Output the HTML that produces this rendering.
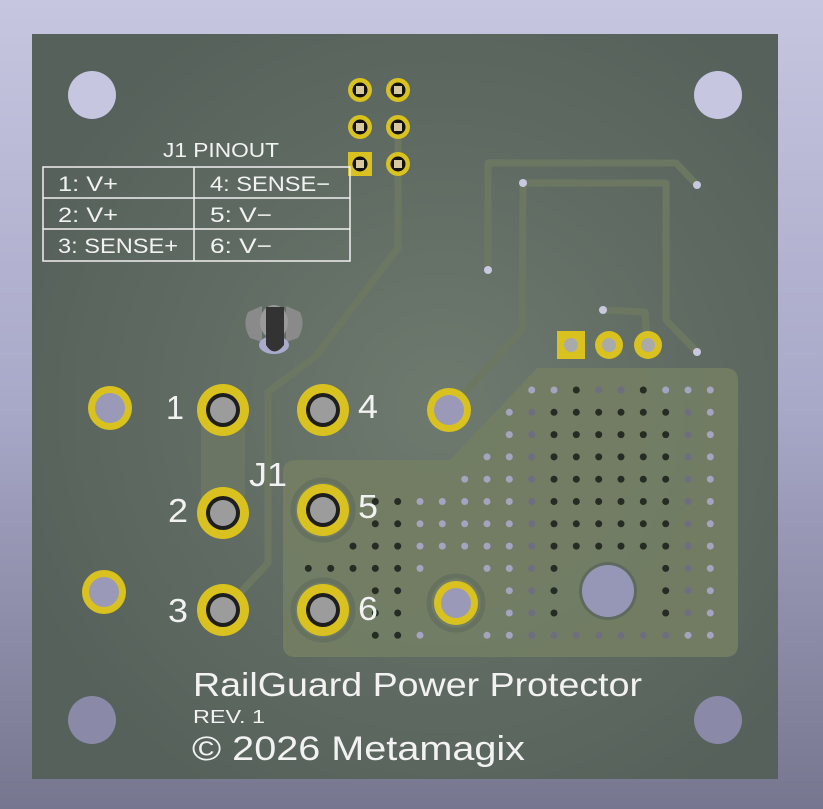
<!DOCTYPE html>
<html><head><meta charset="utf-8"><style>
html,body{margin:0;padding:0;width:823px;height:809px;overflow:hidden}
svg{display:block}
.L{fill:#a4a4c0}.D{fill:#262b24}.H{fill:#6e6e80}
text{font-family:"Liberation Sans",sans-serif;fill:#f2f2f2}
</style></head><body>
<svg width="823" height="809" viewBox="0 0 823 809" xmlns="http://www.w3.org/2000/svg">
<defs>
<linearGradient id="bg" x1="0" y1="0" x2="0" y2="1"><stop offset="0" stop-color="#c6c6e0"/><stop offset="0.5" stop-color="#a8a8c8"/><stop offset="1" stop-color="#76768f"/></linearGradient>
<radialGradient id="bd" cx="0.55" cy="0.5" r="0.6"><stop offset="0" stop-color="#6e7a6e"/><stop offset="1" stop-color="#55615a"/></radialGradient>
<g id="pth"><circle r="26" fill="#d9c21f"/><circle r="17" fill="#1e1e1e"/><circle r="13" fill="#9c9c9c"/></g>
<g id="mh"><circle r="22" fill="#d9c21f"/><circle r="15" fill="#9a9ab8"/></g>
<g id="hp"><circle r="12" fill="#d9c21f"/><circle r="7.5" fill="#111"/><rect x="-4" y="-4" width="8" height="8" fill="#d8c8a0"/></g>
</defs>
<rect width="823" height="809" fill="url(#bg)"/>
<rect x="32" y="34" width="746" height="745" fill="url(#bd)"/>
<g fill="#c6c6e0"><ellipse cx="92" cy="95" rx="24" ry="24"/><ellipse cx="718" cy="95" rx="24" ry="24"/></g>
<g fill="#8a8aa8"><ellipse cx="92" cy="720" rx="24" ry="24"/><ellipse cx="718" cy="720" rx="24" ry="24"/></g>
<path d="M537 368 L725 368 Q738 368 738 381 L738 645 Q738 657 725 657 L296 657 Q283 657 283 645 L283 472 Q283 460 296 460 L450 460 Z" fill="#737e64" opacity="0.9"/>
<g fill="none" stroke="#6c7762" stroke-width="7" stroke-linejoin="round" stroke-linecap="round">
<path d="M398 127 L398 248 L315 357 L268 392 L268 563 L238 595"/>
<path d="M488 270 L488 163 L676 163 L697 185"/>
<path d="M523 183 L666 183 L666 320 L697 352"/>
<path d="M523 183 L522 330 L449 410"/>
<path d="M603 310 L645 312 L647 345"/>
</g>
<rect x="201" y="410" width="44" height="103" fill="#6a7563"/>
<g fill="#c8c8de"><circle cx="488" cy="270" r="4"/><circle cx="697" cy="185" r="4"/><circle cx="523" cy="183" r="4"/><circle cx="697" cy="352" r="4"/><circle cx="603" cy="310" r="4"/></g>
<rect x="557" y="331" width="28" height="28" fill="#d9c21f"/>
<circle cx="609" cy="345" r="14" fill="#d9c21f"/><circle cx="648" cy="345" r="14" fill="#d9c21f"/>
<g fill="#aaa"><circle cx="571" cy="345" r="7"/><circle cx="609" cy="345" r="7"/><circle cx="648" cy="345" r="7"/></g>
<rect x="348" y="152" width="24" height="24" fill="#d9c21f"/>
<use href="#hp" x="360" y="90"/><use href="#hp" x="398" y="90"/>
<use href="#hp" x="360" y="127"/><use href="#hp" x="398" y="127"/>
<use href="#hp" x="360" y="164"/><use href="#hp" x="398" y="164"/>
<!-- component -->
<path d="M262 306 L248 312 Q242 325 250 338 L262 342 Z" fill="#8a8a8a"/>
<path d="M286 306 L300 312 Q306 325 298 338 L286 342 Z" fill="#8a8a8a"/>
<ellipse cx="274" cy="345" rx="15" ry="9" fill="#aaaacc"/>
<ellipse cx="274" cy="322" rx="14" ry="17" fill="#9a9a9a"/>
<path d="M266 307 L284 307 L284 345 Q274 358 266 345 Z" fill="#333"/>
<g>
<circle class="L" cx="531.7" cy="390" r="3.5"/><circle class="L" cx="554" cy="390" r="3.5"/><circle class="D" cx="576.3" cy="390" r="3.5"/><circle class="H" cx="598.7" cy="390" r="3.5"/><circle class="H" cx="621" cy="390" r="3.5"/><circle class="D" cx="643.3" cy="390" r="3.5"/><circle class="L" cx="665.7" cy="390" r="3.5"/><circle class="L" cx="688" cy="390" r="3.5"/><circle class="L" cx="710.3" cy="390" r="3.5"/>
</g>
<g id="r1">
<circle class="L" cx="509.3" cy="412.3" r="3.5"/><circle class="H" cx="531.7" cy="412.3" r="3.5"/><circle class="D" cx="554" cy="412.3" r="3.5"/><circle class="D" cx="576.3" cy="412.3" r="3.5"/><circle class="D" cx="598.7" cy="412.3" r="3.5"/><circle class="D" cx="621" cy="412.3" r="3.5"/><circle class="D" cx="643.3" cy="412.3" r="3.5"/><circle class="D" cx="665.7" cy="412.3" r="3.5"/><circle class="H" cx="688" cy="412.3" r="3.5"/><circle class="L" cx="710.3" cy="412.3" r="3.5"/>
</g>
<use href="#r1" y="22.3"/>
<use href="#r1" y="44.6"/><circle class="L" cx="487" cy="456.9" r="3.5"/>
<use href="#r1" y="66.9"/><circle class="L" cx="487" cy="479.2" r="3.5"/><circle class="L" cx="464.7" cy="479.2" r="3.5"/>
<g id="r5">
<use href="#r1" y="89.2"/>
<circle class="D" cx="375.3" cy="501.5" r="3.5"/><circle class="D" cx="397.7" cy="501.5" r="3.5"/><circle class="L" cx="420" cy="501.5" r="3.5"/><circle class="L" cx="442.3" cy="501.5" r="3.5"/><circle class="L" cx="464.7" cy="501.5" r="3.5"/><circle class="L" cx="487" cy="501.5" r="3.5"/>
</g>
<use href="#r5" y="22.3"/>
<use href="#r5" y="44.6"/><circle class="D" cx="353" cy="546.1" r="3.5"/>
<g id="r8">
<circle class="L" cx="509.3" cy="568.4" r="3.5"/><circle class="H" cx="531.7" cy="568.4" r="3.5"/><circle class="D" cx="554" cy="568.4" r="3.5"/><circle class="D" cx="665.7" cy="568.4" r="3.5"/><circle class="H" cx="688" cy="568.4" r="3.5"/><circle class="L" cx="710.3" cy="568.4" r="3.5"/>
<circle class="D" cx="375.3" cy="568.4" r="3.5"/><circle class="D" cx="397.7" cy="568.4" r="3.5"/>
</g>
<circle class="D" cx="308.3" cy="568.4" r="3.5"/><circle class="D" cx="330.7" cy="568.4" r="3.5"/><circle class="D" cx="353" cy="568.4" r="3.5"/><circle class="L" cx="420" cy="568.4" r="3.5"/><circle class="L" cx="487" cy="568.4" r="3.5"/>
<use href="#r8" y="22.3"/><use href="#r8" y="44.6"/>
<g>
<circle class="D" cx="375.3" cy="635.3" r="3.5"/><circle class="D" cx="397.7" cy="635.3" r="3.5"/><circle class="L" cx="420" cy="635.3" r="3.5"/><circle class="L" cx="487" cy="635.3" r="3.5"/><circle class="L" cx="509.3" cy="635.3" r="3.5"/><circle class="H" cx="531.7" cy="635.3" r="3.5"/><circle class="H" cx="554" cy="635.3" r="3.5"/><circle class="H" cx="576.3" cy="635.3" r="3.5"/><circle class="H" cx="598.7" cy="635.3" r="3.5"/><circle class="H" cx="621" cy="635.3" r="3.5"/><circle class="H" cx="643.3" cy="635.3" r="3.5"/><circle class="H" cx="665.7" cy="635.3" r="3.5"/><circle class="L" cx="688" cy="635.3" r="3.5"/><circle class="L" cx="710.3" cy="635.3" r="3.5"/>
</g>
<circle cx="608" cy="591" r="29" fill="#5f6a5e"/><circle cx="608" cy="591" r="26" fill="#9696b6"/>
<g fill="none" stroke="#66725f" stroke-width="5"><circle cx="323" cy="510" r="30"/><circle cx="323" cy="610" r="30"/><circle cx="456" cy="603" r="27"/></g>
<use href="#pth" x="223" y="410"/><use href="#pth" x="223" y="513"/><use href="#pth" x="223" y="610"/>
<use href="#pth" x="323" y="410"/><use href="#pth" x="323" y="510"/><use href="#pth" x="323" y="610"/>
<use href="#mh" x="110" y="408"/><use href="#mh" x="104" y="592"/><use href="#mh" x="449" y="410"/><use href="#mh" x="456" y="603"/>
<g font-size="33">
<text x="166" y="419" textLength="18" lengthAdjust="spacingAndGlyphs">1</text><text x="168" y="522" textLength="20" lengthAdjust="spacingAndGlyphs">2</text><text x="168" y="622" textLength="20" lengthAdjust="spacingAndGlyphs">3</text>
<text x="358" y="418" textLength="20" lengthAdjust="spacingAndGlyphs">4</text><text x="358" y="518" textLength="20" lengthAdjust="spacingAndGlyphs">5</text><text x="358" y="620" textLength="20" lengthAdjust="spacingAndGlyphs">6</text>
<text x="249" y="486" textLength="38" lengthAdjust="spacingAndGlyphs">J1</text>
</g>
<text x="163" y="157" font-size="20" textLength="116" lengthAdjust="spacingAndGlyphs">J1 PINOUT</text>
<g fill="none" stroke="#f0f0f0" stroke-width="1.5">
<rect x="43" y="167" width="307" height="94"/>
<line x1="43" y1="198" x2="350" y2="198"/><line x1="43" y1="229" x2="350" y2="229"/>
<line x1="194" y1="167" x2="194" y2="261"/>
</g>
<g font-size="21">
<text x="58" y="191" textLength="60" lengthAdjust="spacingAndGlyphs">1: V+</text><text x="210" y="191" textLength="120" lengthAdjust="spacingAndGlyphs">4: SENSE−</text>
<text x="58" y="222" textLength="60" lengthAdjust="spacingAndGlyphs">2: V+</text><text x="210" y="222" textLength="62" lengthAdjust="spacingAndGlyphs">5: V−</text>
<text x="58" y="253" textLength="120" lengthAdjust="spacingAndGlyphs">3: SENSE+</text><text x="210" y="253" textLength="62" lengthAdjust="spacingAndGlyphs">6: V−</text>
</g>
<text x="193" y="696" font-size="33" textLength="449" lengthAdjust="spacingAndGlyphs">RailGuard Power Protector</text>
<text x="193" y="723" font-size="18" textLength="72" lengthAdjust="spacingAndGlyphs">REV. 1</text>
<text x="192" y="760" font-size="34" textLength="333" lengthAdjust="spacingAndGlyphs">© 2026 Metamagix</text>
</svg>
</body></html>
